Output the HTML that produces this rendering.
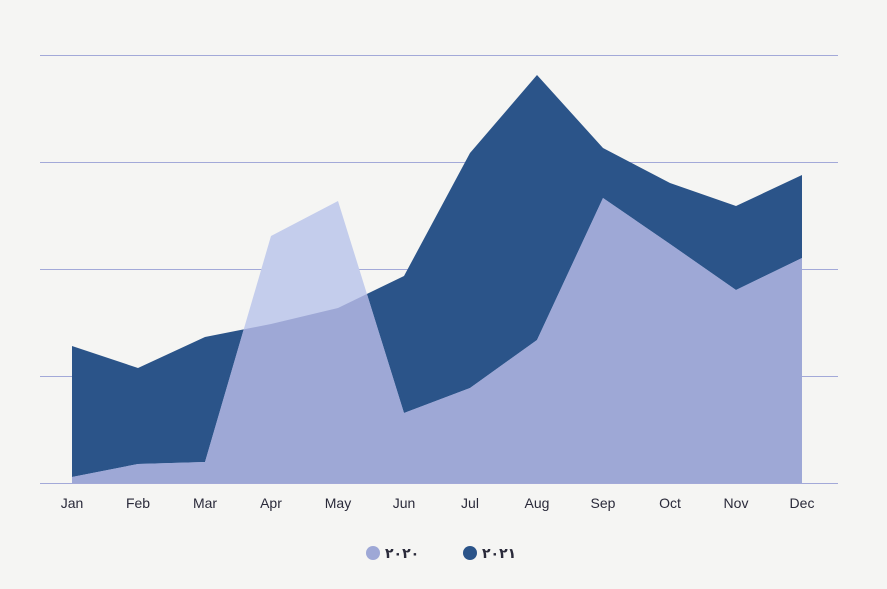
<!DOCTYPE html>
<html><head><meta charset="utf-8"><style>
html,body{margin:0;padding:0;background:#f5f5f3;}
svg{display:block}
</style></head><body>
<svg width="887" height="589" viewBox="0 0 887 589" xmlns="http://www.w3.org/2000/svg">
<rect width="887" height="589" fill="#f5f5f3"/>
<defs>
<clipPath id="c20"><polygon points="72,483 72,477 138,464 205,462 271,236 338,201 404,413 470,388 537,340 603,198 670,244 736,290 802,258 802,483"/></clipPath>
</defs>
<g stroke="#a3a9d8" stroke-width="1">
<line x1="40" y1="55.5" x2="838" y2="55.5"/>
<line x1="40" y1="162.5" x2="838" y2="162.5"/>
<line x1="40" y1="269.5" x2="838" y2="269.5"/>
<line x1="40" y1="376.5" x2="838" y2="376.5"/>
</g>
<polygon fill="#2b5489" points="72,483 72,346 138,368 205,337 271,324 338,308 404,276 470,153 537,75 603,148 670,183 736,206 802,175 802,483"/>
<polygon fill="#c4cdec" points="72,483 72,477 138,464 205,462 271,236 338,201 404,413 470,388 537,340 603,198 670,244 736,290 802,258 802,483"/>
<polygon fill="#9ea8d6" clip-path="url(#c20)" points="72,483 72,346 138,368 205,337 271,324 338,308 404,276 470,153 537,75 603,148 670,183 736,206 802,175 802,483"/>
<line x1="40" y1="483.5" x2="838" y2="483.5" stroke="#a3a9d8" stroke-width="1"/>
<g font-family="Liberation Sans, sans-serif" font-size="14" fill="#2a2a3a" text-anchor="middle">
<text x="72" y="508">Jan</text><text x="138" y="508">Feb</text><text x="205" y="508">Mar</text>
<text x="271" y="508">Apr</text><text x="338" y="508">May</text><text x="404" y="508">Jun</text>
<text x="470" y="508">Jul</text><text x="537" y="508">Aug</text><text x="603" y="508">Sep</text>
<text x="670" y="508">Oct</text><text x="736" y="508">Nov</text><text x="802" y="508">Dec</text>
</g>
<circle cx="373" cy="553" r="7" fill="#9ea8d6"/>
<circle cx="470" cy="553" r="7" fill="#2b5489"/>
<g font-family="Liberation Sans, 'DejaVu Sans', sans-serif" font-size="14" font-weight="bold" fill="#2a2a3a">
<text x="385" y="558">٢٠٢٠</text>
<text x="482" y="558">٢٠٢١</text>
</g>
</svg>
</body></html>
